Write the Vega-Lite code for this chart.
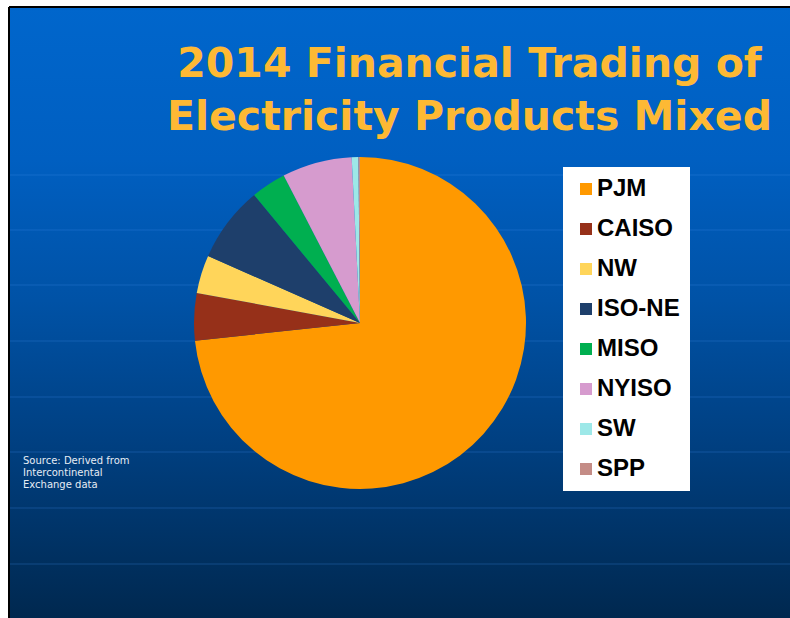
{
  "$schema": "https://vega.github.io/schema/vega-lite/v6.json",
  "width": 781,
  "height": 611,
  "autosize": {"type": "none"},
  "padding": {"left": 9, "top": 7, "right": 0, "bottom": 0},
  "background": "white",
  "config": {
    "view": {"stroke": null}
  },
  "title": {
    "text": ["2014 Financial Trading of", "Electricity Products Mixed"],
    "orient": "top",
    "anchor": "middle",
    "frame": "group",
    "font": "DejaVu Sans",
    "fontSize": 41,
    "fontWeight": "bold",
    "color": "#FDB934",
    "lineHeight": 53,
    "baseline": "top",
    "offset": -133,
    "dx": 70
  },
  "datasets": {
    "shares": [
      {"region": "PJM", "share": 73.3, "idx": 1},
      {"region": "CAISO", "share": 4.6, "idx": 2},
      {"region": "NW", "share": 3.7, "idx": 3},
      {"region": "ISO-NE", "share": 7.4, "idx": 4},
      {"region": "MISO", "share": 3.4, "idx": 5},
      {"region": "NYISO", "share": 6.8, "idx": 6},
      {"region": "SW", "share": 0.65, "idx": 7},
      {"region": "SPP", "share": 0.15, "idx": 8}
    ],
    "gridlines": [
      {"py": 168}, {"py": 223}, {"py": 278}, {"py": 334},
      {"py": 390}, {"py": 445}, {"py": 501}, {"py": 557}
    ]
  },
  "data": {"name": "shares"},
  "layer": [
    {
      "data": {"values": [{"panel": "background"}]},
      "mark": {
        "type": "rect",
        "strokeWidth": 0,
        "color": {
          "gradient": "linear",
          "x1": 0, "y1": 0, "x2": 0, "y2": 1,
          "stops": [
            {"offset": 0, "color": "#0066CC"},
            {"offset": 0.25, "color": "#005FC1"},
            {"offset": 0.48, "color": "#0052A6"},
            {"offset": 0.72, "color": "#003F80"},
            {"offset": 1, "color": "#00284F"}
          ]
        }
      },
      "encoding": {
        "x": {"value": 0},
        "x2": {"value": "width"},
        "y": {"value": 0},
        "y2": {"value": "height"}
      }
    },
    {
      "data": {"name": "gridlines"},
      "mark": {"type": "rule", "color": "#3F8FEA", "opacity": 0.3, "strokeWidth": 1.2},
      "encoding": {
        "y": {"field": "py", "type": "quantitative", "scale": {"domain": [0, 611], "reverse": true, "nice": false, "zero": false}, "axis": null}
      }
    },
    {
      "data": {"values": [{"edge": "left"}]},
      "mark": {"type": "rule", "color": "black", "strokeWidth": 2},
      "encoding": {
        "x": {"value": 0},
        "y": {"value": 0},
        "y2": {"value": 611}
      }
    },
    {
      "data": {"values": [{"edge": "top"}]},
      "mark": {"type": "rule", "color": "black", "strokeWidth": 2},
      "encoding": {
        "x": {"value": 0},
        "x2": {"value": 781},
        "y": {"value": 0}
      }
    },
    {
      "mark": {"type": "arc", "radius": 166, "x": 351, "y": 316},
      "encoding": {
        "theta": {"field": "share", "type": "quantitative", "stack": true},
        "order": {"field": "idx", "type": "quantitative"},
        "color": {
          "field": "region",
          "type": "nominal",
          "scale": {
            "domain": ["PJM", "CAISO", "NW", "ISO-NE", "MISO", "NYISO", "SW", "SPP"],
            "range": ["#FF9900", "#963019", "#FFD55A", "#1E3F6B", "#00AF50", "#D69BCE", "#9DE8E8", "#C48C86"]
          },
          "legend": {
            "title": null,
            "orient": "none",
            "legendX": 554,
            "legendY": 160,
            "fillColor": "white",
            "padding": 10,
            "symbolType": "square",
            "symbolSize": 144,
            "symbolOffset": 1,
            "symbolStrokeWidth": 0,
            "labelFont": "Liberation Sans",
            "labelFontSize": 24,
            "labelFontWeight": "bold",
            "labelColor": "black",
            "labelOffset": -1,
            "rowPadding": 16
          }
        }
      }
    },
    {
      "data": {"values": [{"note": "Source: Derived from\nIntercontinental\nExchange data"}]},
      "mark": {
        "type": "text",
        "align": "left",
        "baseline": "top",
        "lineBreak": "\n",
        "font": "DejaVu Sans",
        "fontSize": 10,
        "lineHeight": 12,
        "color": "#E6ECF4",
        "x": 14,
        "y": 449
      },
      "encoding": {"text": {"field": "note", "type": "nominal"}}
    }
  ]
}
